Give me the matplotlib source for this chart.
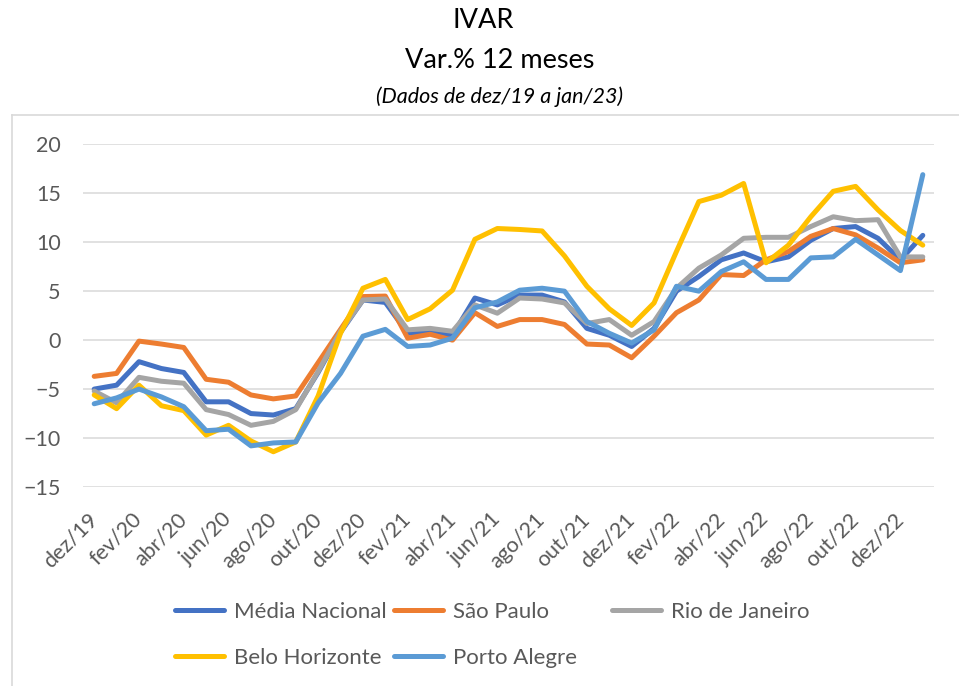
import matplotlib
matplotlib.use("Agg")
import matplotlib.pyplot as plt
from matplotlib.lines import Line2D

plt.rcParams['font.family'] = ['Lato', 'DejaVu Sans']

months = ['dez/19', 'jan/20', 'fev/20', 'mar/20', 'abr/20', 'mai/20', 'jun/20', 'jul/20',
          'ago/20', 'set/20', 'out/20', 'nov/20', 'dez/20', 'jan/21', 'fev/21', 'mar/21',
          'abr/21', 'mai/21', 'jun/21', 'jul/21', 'ago/21', 'set/21', 'out/21', 'nov/21',
          'dez/21', 'jan/22', 'fev/22', 'mar/22', 'abr/22', 'mai/22', 'jun/22', 'jul/22',
          'ago/22', 'set/22', 'out/22', 'nov/22', 'dez/22', 'jan/23']

media_nacional = [-5.0, -4.6, -2.2, -2.9, -3.3, -6.3, -6.3, -7.5, -7.65, -7.0, -3.3, 0.8,
                  4.1, 3.85, 0.7, 0.8, 0.5, 4.3, 3.6, 4.6, 4.6, 3.9, 1.2, 0.5,
                  -0.65, 1.2, 5.0, 6.5, 8.2, 8.9, 8.0, 8.5, 10.2, 11.4, 11.6, 10.4, 8.2, 10.7]
sao_paulo = [-3.7, -3.4, -0.1, -0.4, -0.75, -4.0, -4.3, -5.6, -6.0, -5.7, -2.3, 1.1,
             4.45, 4.5, 0.2, 0.6, 0.0, 2.8, 1.4, 2.1, 2.1, 1.6, -0.4, -0.5,
             -1.8, 0.4, 2.8, 4.1, 6.7, 6.6, 8.2, 9.05, 10.6, 11.4, 10.75, 9.4, 7.9, 8.2]
rio = [-5.2, -6.4, -3.8, -4.2, -4.4, -7.1, -7.6, -8.7, -8.3, -7.1, -3.2, 0.9,
       4.1, 4.2, 1.05, 1.2, 0.9, 3.6, 2.75, 4.3, 4.2, 3.8, 1.7, 2.1,
       0.5, 1.9, 5.3, 7.35, 8.7, 10.4, 10.5, 10.5, 11.6, 12.6, 12.2, 12.3, 8.5, 8.5]
bh = [-5.6, -7.0, -4.6, -6.7, -7.2, -9.7, -8.7, -10.3, -11.4, -10.4, -5.7, 0.7,
      5.3, 6.2, 2.1, 3.2, 5.1, 10.3, 11.4, 11.3, 11.15, 8.6, 5.5, 3.2,
      1.5, 3.8, 9.05, 14.15, 14.8, 16.0, 7.9, 9.7, 12.6, 15.2, 15.7, 13.3, 11.2, 9.7]
poa = [-6.5, -5.9, -5.0, -5.8, -6.8, -9.25, -9.1, -10.8, -10.5, -10.4, -6.4, -3.4,
       0.4, 1.1, -0.65, -0.5, 0.2, 3.3, 3.9, 5.1, 5.3, 5.0, 1.9, 0.7,
       -0.3, 1.05, 5.5, 5.0, 7.0, 8.0, 6.2, 6.2, 8.4, 8.5, 10.3, 8.7, 7.1, 16.9]

series = [
    ('Média Nacional', media_nacional, '#4472C4'),
    ('São Paulo', sao_paulo, '#ED7D31'),
    ('Rio de Janeiro', rio, '#A5A5A5'),
    ('Belo Horizonte', bh, '#FFC000'),
    ('Porto Alegre', poa, '#5B9BD5'),
]

W, H = 959, 686
fig = plt.figure(figsize=(W / 100, H / 100), dpi=100)
ax = fig.add_axes([83 / W, 1 - 487 / H, 851 / W, 342.7 / H])

x = list(range(len(months)))
lines = {}
for name, vals, col in series:
    ln, = ax.plot(x, vals, color=col, lw=3.6, solid_capstyle='round',
                  solid_joinstyle='round', label=name)
    lines[name] = ln

ax.set_xlim(-0.5, len(months) - 0.5)
ax.set_ylim(-15, 20)
ax.set_yticks(range(-15, 21, 5))
ax.set_xticks(x[::2])
ax.set_xticklabels(months[::2], rotation=45, ha='right', va='center',
                   rotation_mode='anchor')
ax.tick_params(axis='y', length=0, pad=16, labelsize=15.5, labelcolor='#595959')
ax.tick_params(axis='x', length=0, pad=21, labelsize=15.5, labelcolor='#595959')
ax.grid(axis='y', color='#D9D9D9', lw=1.1)
ax.set_axisbelow(True)
for s in ax.spines.values():
    s.set_visible(False)

# titles
fig.text(483 / W, 1 - 21 / H, 'IVAR', ha='center', va='center', fontsize=19.5)
fig.text(500 / W, 1 - 60 / H, 'Var.% 12 meses', ha='center', va='center', fontsize=19.5)
fig.text(500 / W, 1 - 97 / H, '(Dados de dez/19 a jan/23)', ha='center', va='center',
         fontsize=15.5, style='italic')

# chart border
fig.add_artist(Line2D([12 / W, 1], [1 - 115 / H, 1 - 115 / H], color='#D9D9D9', lw=1.2))
fig.add_artist(Line2D([12 / W, 12 / W], [0, 1 - 115 / H], color='#D9D9D9', lw=1.2))

# legend, one block per column
cols = [(['Média Nacional', 'Belo Horizonte'], 175),
        (['São Paulo', 'Porto Alegre'], 394),
        (['Rio de Janeiro'], 612)]
for names, xp in cols:
    leg = fig.legend(handles=[lines[n] for n in names], loc='upper left',
                     bbox_to_anchor=(xp / W, 1 - 602 / H), frameon=False,
                     fontsize=16, labelcolor='#595959', handlelength=2.2,
                     handletextpad=0.45, borderpad=0, borderaxespad=0,
                     labelspacing=1.15)

fig.savefig('out.png', dpi=100)
